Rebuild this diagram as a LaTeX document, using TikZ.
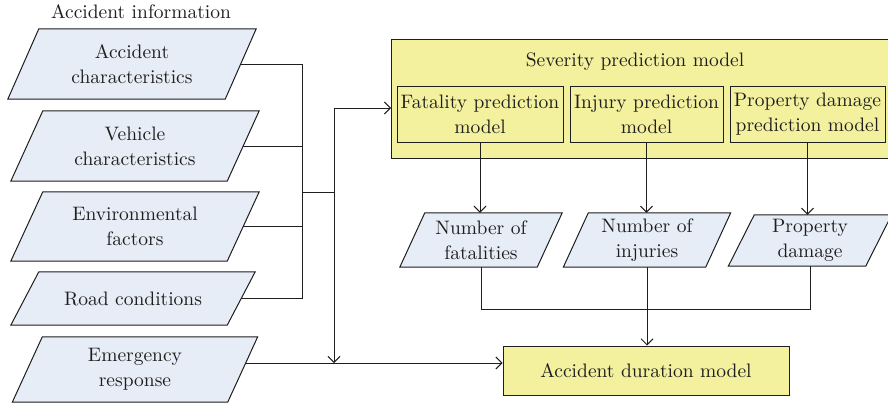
\documentclass[tikz,border=0pt]{standalone}
\usepackage{fontspec}
\setmainfont{lmroman10-regular.otf}
\usetikzlibrary{arrows.meta,backgrounds}
\definecolor{pblue}{HTML}{E7EDF6}
\definecolor{pyell}{HTML}{F3F09E}
\definecolor{lnc}{HTML}{1E1E1E}
% name, x, y, width, height, slant, text
\newcommand\mkpara[7]{%
  \node[minimum width=#4, minimum height=#5] (#1) at (#2,#3) {#7};
  \begin{pgfonlayer}{background}
    \path[pshape] ([xshift=-#6/2]#1.south west) -- ([xshift=#6/2]#1.north west)
      -- ([xshift=#6/2]#1.north east) -- ([xshift=-#6/2]#1.south east) -- cycle;
  \end{pgfonlayer}}
\begin{document}
\begin{tikzpicture}[x=1pt,y=-1pt,
  every node/.style={font=\fontsize{19.5}{25}\selectfont, inner sep=0pt, align=center, text=lnc},
  pshape/.style={fill=pblue, draw=lnc, line width=1pt},
  ybox/.style={draw=lnc, fill=pyell, line width=1pt},
  ibox/.style={draw=lnc, line width=1pt},
  conn/.style={draw=lnc, line width=1pt},
  arr/.style={conn, -{Straight Barb[length=6pt,width=12pt]}}]
\useasboundingbox (0,0) rectangle (888,407);

\node (title) at (141,12) {Accident information};

\mkpara{a1}{132}{64}{217}{70}{31}{Accident\\characteristics}
\mkpara{a2}{135}{146}{216}{70}{32}{Vehicle\\characteristics}
\mkpara{a3}{135}{226.5}{216}{69}{32}{Environmental\\factors}
\mkpara{a4}{133}{298.5}{216}{53}{28}{Road conditions}
\mkpara{em}{135}{369.5}{215}{65}{30}{Emergency\\response}

% severity model
\node[ybox, anchor=north west, minimum width=520, minimum height=119] (sev) at (391,39) {};
\node (sevt) at (635,62) {Severity prediction model};
\node[ibox, minimum width=166, minimum height=56] (fm) at (480,114) {Fatality prediction\\model};
\node[ibox, minimum width=153, minimum height=56] (im) at (646.5,114) {Injury prediction\\model};
\node[ibox, minimum width=155, minimum height=56] (pm) at (807.5,114) {Property damage\\prediction model};

\mkpara{nf}{481}{240}{137}{54}{25}{Number of\\fatalities}
\mkpara{ni}{647}{240}{142}{54}{25}{Number of\\injuries}
\mkpara{pd}{810}{240.5}{137}{51}{26}{Property\\damage}

\node[ybox, minimum width=286, minimum height=49] (dur) at (646,370.5) {Accident duration model};

% left bus
\coordinate (bx) at (302,0);
\draw[conn] (a1.east) -- (a1.east -| bx) -- (a4.east -| bx) -- (a4.east);
\draw[conn] (a2.east) -- (a2.east -| bx);
\draw[conn] (a3.east) -- (a3.east -| bx);
\coordinate (j) at (302,192);
\coordinate (k) at (334,192);
\coordinate (ktop) at (334,108);
\draw[conn] (j) -- (k);
\draw[conn] (k) -- (ktop);
\draw[arr] (ktop) -- (ktop -| sev.west);
\coordinate (emo) at ([xshift=3pt,yshift=6.5pt]em.east);
\draw[arr] (emo) -- (emo -| dur.west);
\draw[arr] (k) -- (k |- emo);

% severity outputs
\draw[arr] (fm.south) -- (fm.south |- nf.north);
\draw[arr] (im.south) -- (im.south |- ni.north);
\draw[arr] (pm.south) -- (pm.south |- pd.north);

% merge to duration model
\coordinate (hy) at (0,309);
\draw[conn] (nf.south) -- (nf.south |- hy) -- (pd.south |- hy) -- (pd.south);
\draw[arr] (ni.south) -- (ni.south |- dur.north);
\end{tikzpicture}
\end{document}
